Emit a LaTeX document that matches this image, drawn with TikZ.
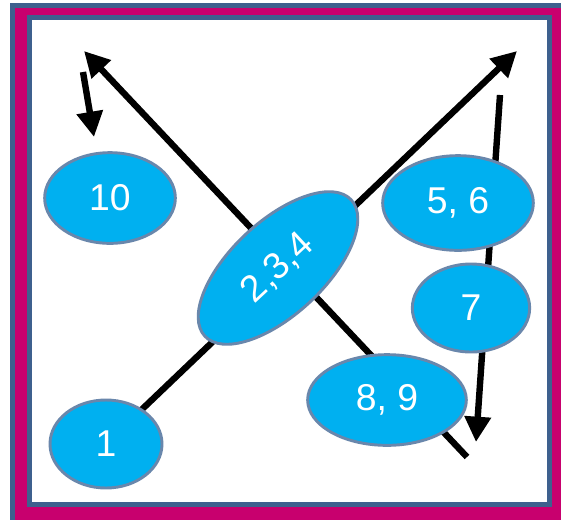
\documentclass[tikz,border=0pt]{standalone}
\usepackage{fontspec}
\setmainfont{Liberation Sans}
\usetikzlibrary{shapes.geometric,arrows.meta}
\definecolor{frameblue}{RGB}{62,96,142}
\definecolor{framemag}{RGB}{200,0,110}
\definecolor{ellfill}{RGB}{0,176,240}
\definecolor{elledge}{RGB}{105,135,172}
\begin{document}
\begin{tikzpicture}[x=0.75pt,y=-0.75pt,
  bubble/.style={ellipse, fill=ellfill, draw=elledge, line width=2.2pt,
    text=white, font=\fontsize{28}{30}\selectfont, inner sep=0pt},
  arr/.style={line width=4.8pt, -{Triangle[length=19pt,width=19pt]}}]
\useasboundingbox (0,0) rectangle (561,519);
\clip (0,0) rectangle (561,519);
% frame
\draw[frameblue, line width=3.75pt, fill=framemag] (12.5,5) rectangle (580,540);
\draw[frameblue, line width=3.75pt, fill=white] (29.5,17) rectangle (549.5,504.5);
% free ends of the connectors
\coordinate (a1s) at (135,416);
\coordinate (a1e) at (517,51);
\coordinate (a2s) at (467,457);
\coordinate (a2e) at (84,51);
\coordinate (a3s) at (83,72);
\coordinate (a3e) at (94,137);
\coordinate (a4s) at (500,95);
\coordinate (a4e) at (476,442);
% connectors
\draw[arr] (a1s) -- (a1e);
\draw[arr] (a2s) -- (a2e);
\draw[arr] (a3s) -- (a3e);
\draw[arr] (a4s) -- (a4e);
% nodes
\node[bubble, minimum width=98pt, minimum height=68pt] (n10) at (110,198) {10};
\node[bubble, minimum width=84pt, minimum height=66pt] (n1) at (106,444) {1};
\node[bubble, minimum width=150pt, minimum height=70pt, rotate=43] (n234) at (278,268) {2,3,4};
\node[bubble, minimum width=113pt, minimum height=71pt] (n56) at (458,203) {5, 6};
\node[bubble, minimum width=88pt, minimum height=66pt] (n7) at (471,308) {7};
\node[bubble, minimum width=119pt, minimum height=68pt] (n89) at (387,400) {8, 9};
\end{tikzpicture}
\end{document}
